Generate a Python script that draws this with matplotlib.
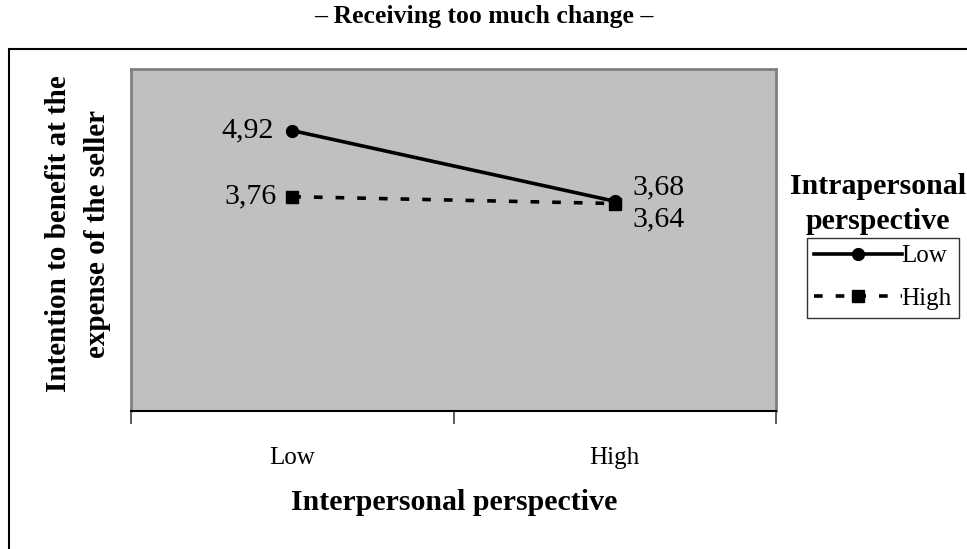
import matplotlib
matplotlib.use("Agg")
import matplotlib.pyplot as plt
from matplotlib.lines import Line2D
from matplotlib.patches import Rectangle

categories = ["Low", "High"]
series_names = ["Low", "High"]
low_values = [4.92, 3.68]
high_values = [3.76, 3.64]
low_labels = ["4,92", "3,68"]
high_labels = ["3,76", "3,64"]

title = "\u2013 Receiving too much change \u2013"
xlabel = "Interpersonal perspective"
ylabel = "Intention to benefit at the\nexpense of the seller"
legend_title = "Intrapersonal\nperspective"

plt.rcParams['font.family'] = ['Liberation Serif', 'DejaVu Serif']

W, H = 967, 549
fig = plt.figure(figsize=(W / 100, H / 100), dpi=100)

# outer frame
fig.patches.append(Rectangle((9 / W, -0.05), 1.1, 1 - 49 / H + 0.05,
                             transform=fig.transFigure, fill=False,
                             edgecolor="black", linewidth=1.5))

ax = fig.add_axes([131 / W, 1 - 411 / H, 645 / W, 342 / H])
ax.set_facecolor("#C0C0C0")
x = list(range(len(categories)))

LW = 2.6
ax.plot(x, low_values, color="black", linewidth=LW, marker="o",
        markersize=8.5, label=series_names[0], zorder=3)
ax.plot(x, high_values, color="black", linewidth=LW, marker="s",
        markersize=8, linestyle=(0, (2.4, 3.6)), label=series_names[1], zorder=3)

ax.set_xlim(-0.5, 1.5)
ax.set_ylim(0, 6)
ax.set_yticks([])
ax.set_xticks(x)
ax.set_xticklabels(categories, fontsize=18)
ax.tick_params(axis="x", which="major", length=0, pad=26)
ax.set_xticks([-0.5, 0.5, 1.5], minor=True)
ax.tick_params(axis="x", which="minor", length=9, width=1.2, color="#404040")

for s in ["top", "left", "right"]:
    ax.spines[s].set_color("#808080")
    ax.spines[s].set_linewidth(2)
ax.spines["bottom"].set_color("black")
ax.spines["bottom"].set_linewidth(1.5)

# data labels
fs = 21.5
ax.annotate(low_labels[0], (x[0], low_values[0]), xytext=(-18, 0),
            textcoords="offset pixels", ha="right", va="center", fontsize=fs)
ax.annotate(high_labels[0], (x[0], high_values[0]), xytext=(-16, 0),
            textcoords="offset pixels", ha="right", va="center", fontsize=fs)
ax.annotate(low_labels[1], (x[1], low_values[1]), xytext=(18, 14),
            textcoords="offset pixels", ha="left", va="center", fontsize=fs)
ax.annotate(high_labels[1], (x[1], high_values[1]), xytext=(18, -16),
            textcoords="offset pixels", ha="left", va="center", fontsize=fs)

fig.text(484 / W, 1 - 17 / H, title, ha="center", va="center",
         fontsize=18.5, fontweight="bold")
fig.text(454 / W, 1 - 503 / H, xlabel, ha="center", va="center",
         fontsize=21.5, fontweight="bold")
fig.text(78 / W, 1 - 234 / H, ylabel, ha="center", va="center",
         rotation=90, fontsize=21, fontweight="bold",
         multialignment="center", linespacing=1.55)
fig.text(878 / W, 1 - 204 / H, legend_title, ha="center", va="center",
         fontsize=21.5, fontweight="bold", linespacing=1.35)

handles = [
    Line2D([], [], color="black", linewidth=LW, marker="o", markersize=8.5),
    Line2D([], [], color="black", linewidth=LW, marker="s", markersize=8,
           linestyle=(0, (2.4, 3.6))),
]
leg = fig.legend(handles, series_names, loc="center",
                 bbox_to_anchor=(883 / W, 1 - 277.5 / H),
                 frameon=True, fancybox=False, fontsize=18,
                 handlelength=3.5, handletextpad=0.0, borderpad=0.3,
                 labelspacing=0.8, borderaxespad=0)
leg.get_frame().set_edgecolor("black")
leg.get_frame().set_linewidth(1.0)

fig.savefig("out.png", dpi=100)
